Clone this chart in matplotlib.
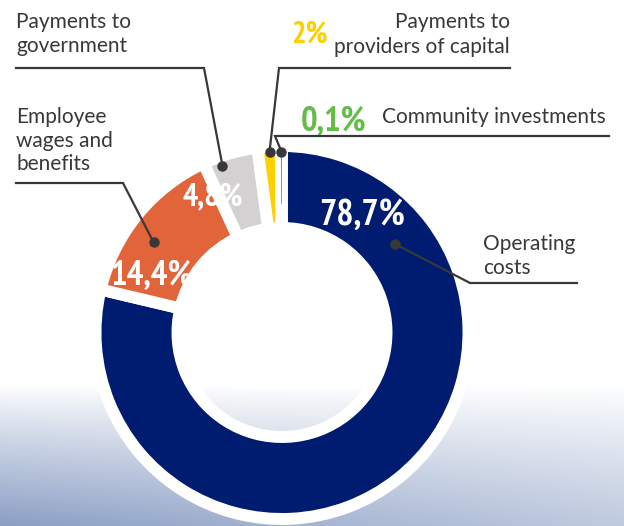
import numpy as np
import matplotlib.pyplot as plt

categories = ['Operating costs', 'Employee wages and benefits', 'Payments to government',
              'Payments to providers of capital', 'Community investments']
shares = [78.7, 14.4, 4.8, 2.0, 0.1]
share_labels = ['78,7%', '14,4%', '4,8%', '2%', '0,1%']
colors = ['#001c71', '#e2643a', '#d4d1d2', '#fdd000', '#56b947']

W, H = 624, 526
TXT = '#383838'


def P(x, y):
    # picture pixel (from top-left) -> data coords
    return x, H - y


fig = plt.figure(figsize=(6.24, 5.26), dpi=100)
ax = fig.add_axes([0, 0, 1, 1])

# soft blue gradient at the bottom
yy, xx = np.mgrid[0:H, 0:W]
v = np.clip((yy - 385) / 141.0, 0, 1) ** 0.9
s = v * (1 - 0.45 * xx / W)
base = np.array([138, 158, 196]) / 255.0
bg = 1 - s[..., None] * (1 - base)
ax.imshow(bg, extent=(0, W, 0, H), origin='upper', aspect='auto', zorder=0)

cx, cy = P(282, 332.5)
r_out = 186.5
ring = 82
wedges, _ = ax.pie(shares, colors=colors, startangle=90, counterclock=False,
                   radius=r_out, center=(cx, cy),
                   wedgeprops=dict(width=ring, edgecolor='white', linewidth=8.6,
                                   joinstyle='round'))
for w in wedges:
    w.set_zorder(2)
# the tiny slice would vanish under the white gaps
wedges[4].set(radius=r_out - 6, width=ring - 30, linewidth=0, zorder=3)

ax.set_xlim(0, W)
ax.set_ylim(0, H)
ax.set_aspect('equal')
ax.axis('off')

# percentages
pct_pos = [(362, 225), (151, 284), (213, 205), (309, 43), (333, 130)]
pct_size = [26, 25, 23, 22, 25]
pct_col = ['white', 'white', 'white', '#fcd000', '#62bd47']
for lab, (x, y), fs, c in zip(share_labels, pct_pos, pct_size, pct_col):
    ax.text(*P(x, y), lab, ha='center', va='baseline', fontsize=fs, color=c,
            fontweight='bold', family=['PT Sans Narrow', 'Roboto Condensed', 'DejaVu Sans'],
            zorder=5)

# category labels, one line at a time
label_lines = [
    (['Operating', 'costs'], 483, [250, 274], 'left'),
    (['Employee', 'wages and', 'benefits'], 16, [123, 147, 170], 'left'),
    (['Payments to', 'government'], 16, [28, 52], 'left'),
    (['Payments to', 'providers of capital'], 510, [28, 53], 'right'),
    (['Community investments'], 382, [123], 'left'),
]
for lines, x, ys, ha in label_lines:
    for line, y in zip(lines, ys):
        ax.text(*P(x, y), line, ha=ha, va='baseline', fontsize=15, color=TXT,
                family=['Lato', 'DejaVu Sans'], zorder=5)

# leader lines: dot on the slice, elbow, horizontal rule
dot_frac = [0.817, 0.58, 0.7, 0.5, 0.5]
dot_rad = [143.5, 157, 177, 181, 181]
elbows = [
    [(470, 283), (577, 283)],
    [(123, 183), (16, 183)],
    [(204, 68), (16, 68)],
    [(279, 68), (510, 68)],
    [(275, 136), (609, 136)],
]
for w, f, r, pts in zip(wedges, dot_frac, dot_rad, elbows):
    t1, t2 = w.theta1, w.theta2
    a = np.deg2rad(t1 + f * (t2 - t1))
    dx, dy = cx + r * np.cos(a), cy + r * np.sin(a)
    xs = [dx] + [p[0] for p in pts]
    ys = [dy] + [H - p[1] for p in pts]
    ax.plot(xs, ys, color=TXT, lw=1.6, zorder=6, solid_joinstyle='miter')
    ax.plot(dx, dy, 'o', color=TXT, ms=6.5, zorder=7)

fig.savefig('out.png', dpi=100)
